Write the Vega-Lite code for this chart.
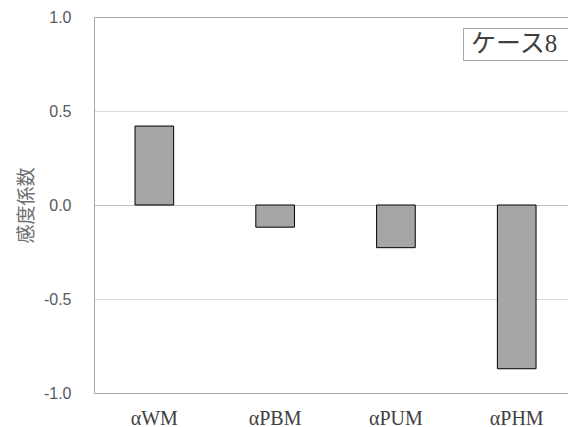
{
  "$schema": "https://vega.github.io/schema/vega-lite/v6.json",
  "width": 474,
  "height": 376,
  "autosize": {"type": "none"},
  "padding": {"left": 94, "top": 17, "right": 0, "bottom": 34},
  "background": "white",
  "config": {"view": {"stroke": null}},
  "data": {
    "values": [
      {"param": "αWM", "value": 0.42, "case": "ケース8"},
      {"param": "αPBM", "value": -0.118, "case": "ケース8"},
      {"param": "αPUM", "value": -0.227, "case": "ケース8"},
      {"param": "αPHM", "value": -0.871, "case": "ケース8"}
    ]
  },
  "mark": {"type": "bar", "stroke": "black", "strokeWidth": 1},
  "encoding": {
    "x": {
      "field": "param",
      "type": "nominal",
      "sort": null,
      "scale": {"paddingInner": 0.68, "paddingOuter": 0.302, "align": 0.562},
      "axis": {
        "title": null,
        "labelAngle": 0,
        "domain": false,
        "ticks": false,
        "labelFont": "Liberation Serif",
        "labelFontSize": 20,
        "labelColor": "#404040",
        "labelPadding": 15
      }
    },
    "y": {
      "field": "value",
      "type": "quantitative",
      "scale": {"domain": [-1, 1], "nice": false},
      "axis": {
        "values": [-1, -0.5, 0, 0.5, 1],
        "labelExpr": "replace(format(datum.value, '.1f'), '−', '-')",
        "title": "感度係数",
        "titleFont": "Noto Sans CJK JP",
        "titleFontSize": 19,
        "titleFontWeight": "normal",
        "titleColor": "#6f6f6f",
        "titlePadding": 7,
        "labelFont": "Liberation Sans",
        "labelFontSize": 16,
        "labelColor": "#595959",
        "labelPadding": 23,
        "ticks": false,
        "domain": true,
        "domainColor": "#a6a6a6",
        "grid": true,
        "gridColor": {
          "condition": [
            {"test": "datum.value === 0", "value": "#bfbfbf"},
            {"test": "abs(datum.value) === 1", "value": "#a6a6a6"}
          ],
          "value": "#d9d9d9"
        }
      }
    },
    "color": {
      "field": "case",
      "type": "nominal",
      "scale": {"range": ["#a6a6a6"]},
      "legend": {
        "title": "88",
        "titleOrient": "right",
        "titleFontSize": 12,
        "titlePadding": 4,
        "titleOpacity": 0,
        "orient": "none",
        "legendX": 369,
        "legendY": 11,
        "symbolSize": 0,
        "symbolStrokeWidth": 0,
        "symbolOpacity": 0,
        "labelOffset": -20,
        "labelFont": "Liberation Serif, Noto Sans CJK JP",
        "labelFontSize": 25,
        "labelColor": "#404040",
        "strokeColor": "#a6a6a6",
        "fillColor": "white",
        "padding": 3
      }
    }
  }
}
